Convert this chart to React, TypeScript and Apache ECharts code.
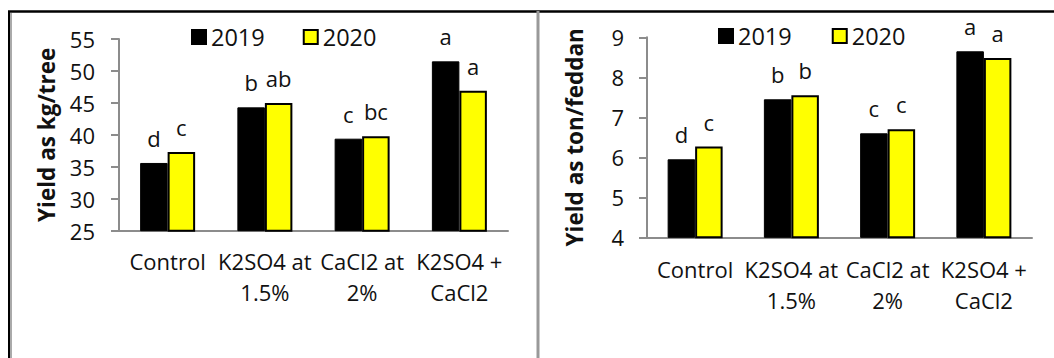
import React, { useEffect, useRef } from "react";
import * as echarts from "echarts";

const categories = ["Control", "K2SO4 at\n1.5%", "CaCl2 at\n2%", "K2SO4 +\nCaCl2"];
const seriesNames = ["2019", "2020"];

const treeYield2019 = [35.6, 44.3, 39.4, 51.5];
const treeYield2020 = [37.3, 45.0, 39.8, 46.9];
const treeLetters2019 = ["d", "b", "c", "a"];
const treeLetters2020 = ["c", "ab", "bc", "a"];

const feddanYield2019 = [5.95, 7.45, 6.6, 8.65];
const feddanYield2020 = [6.27, 7.55, 6.7, 8.48];
const feddanLetters2019 = ["d", "b", "c", "a"];
const feddanLetters2020 = ["c", "b", "c", "a"];

const treeAxis = { min: 25, max: 55, interval: 5, name: "Yield as kg/tree" };
const feddanAxis = { min: 4, max: 9, interval: 1, name: "Yield as ton/feddan" };

const FONT = "Open Sans";
const TXT = "#111";

export default function App() {
  const ref = useRef<HTMLDivElement>(null);
  useEffect(() => {
    if (!ref.current) return;
    const chart = echarts.init(ref.current, null, { renderer: "svg" });

    const xAxisBase = (margin: number) => ({
      type: "category",
      data: categories,
      axisLine: { lineStyle: { color: "#8c8c8c", width: 2 } },
      axisTick: { show: false },
      axisLabel: {
        fontFamily: FONT,
        fontSize: 22,
        color: TXT,
        lineHeight: 31,
        margin: margin,
        interval: 0,
      },
    });
    const yAxisBase = (a: any, gap: number, margin: number) => ({
      type: "value",
      min: a.min,
      max: a.max,
      interval: a.interval,
      name: a.name,
      nameLocation: "middle",
      nameRotate: 90,
      nameGap: gap,
      nameTextStyle: { fontFamily: FONT, fontWeight: "bold", fontSize: 22.5, color: TXT },
      splitLine: { show: false },
      axisLine: { show: true, lineStyle: { color: "#8c8c8c", width: 2 } },
      axisTick: { show: true, length: 8, lineStyle: { color: "#8c8c8c", width: 2 } },
      axisLabel: { fontFamily: FONT, fontSize: 22, color: TXT, margin: margin },
    });

    const barLabel = (letters: string[]) => ({
      show: true,
      position: "top",
      distance: 14,
      fontFamily: FONT,
      fontSize: 22,
      lineHeight: 22,
      color: TXT,
      formatter: (p: any) => letters[p.dataIndex],
    });

    const black = { color: "#000", borderColor: "#000", borderWidth: 1 };
    const yellow = { color: "#FFFF00", borderColor: "#000", borderWidth: 2 };

    const mkSeries = (name: string, data: number[], letters: string[], idx: number, style: any) => ({
      type: "bar",
      name,
      data,
      xAxisIndex: idx,
      yAxisIndex: idx,
      barWidth: 27.5,
      barGap: "0%",
      itemStyle: style,
      label: barLabel(letters),
    });

    const legendBase = {
      icon: "rect",
      itemWidth: 14,
      itemHeight: 14,
      padding: 0,
      data: seriesNames,
      textStyle: { fontFamily: FONT, fontSize: 23.5, color: TXT },
      selectedMode: false,
    };

    chart.setOption({
      animation: false,
      backgroundColor: "#fff",
      grid: [
        { left: 119, top: 39, width: 389, height: 191.7 },
        { left: 647, top: 37.3, width: 385, height: 200 },
      ],
      xAxis: [
        { ...xAxisBase(15), gridIndex: 0 },
        { ...xAxisBase(16), gridIndex: 1 },
      ],
      yAxis: [
        { ...yAxisBase(treeAxis, 61, 24), gridIndex: 0 },
        { ...yAxisBase(feddanAxis, 61, 23), gridIndex: 1 },
      ],
      legend: [
        { ...legendBase, left: 191, top: 25, itemGap: 38 },
        { ...legendBase, left: 718, top: 24, itemGap: 40 },
      ],
      series: [
        mkSeries(seriesNames[0], treeYield2019, treeLetters2019, 0, black),
        mkSeries(seriesNames[1], treeYield2020, treeLetters2020, 0, yellow),
        mkSeries(seriesNames[0], feddanYield2019, feddanLetters2019, 1, black),
        mkSeries(seriesNames[1], feddanYield2020, feddanLetters2020, 1, yellow),
      ],
      graphic: [
        { type: "line", shape: { x1: 8, y1: 11.5, x2: 1054, y2: 11.5 }, style: { stroke: "#000", lineWidth: 2.5 } },
        { type: "line", shape: { x1: 9, y1: 11, x2: 9, y2: 358 }, style: { stroke: "#000", lineWidth: 2 } },
        { type: "line", shape: { x1: 11, y1: 13, x2: 11, y2: 358 }, style: { stroke: "#aaa", lineWidth: 2 } },
        { type: "line", shape: { x1: 538, y1: 11, x2: 538, y2: 358 }, style: { stroke: "#999", lineWidth: 3 } },
      ],
    });
    return () => chart.dispose();
  }, []);
  return (
    <div
      ref={ref}
      style={{ position: "fixed", left: 0, top: 0, width: 1054, height: 358 }}
    />
  );
}
